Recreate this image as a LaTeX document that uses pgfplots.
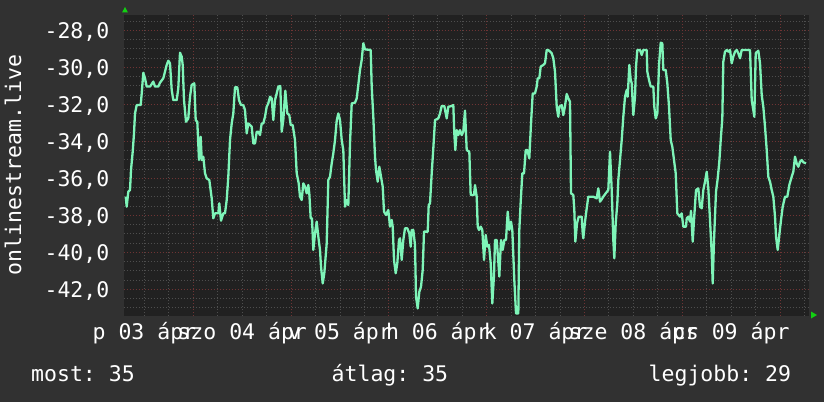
\documentclass[border=0pt]{standalone}
\usepackage{fontspec}
\setmainfont{DejaVu Sans Mono}
\usepackage{pgfplots}
\pgfplotsset{compat=1.18}
\definecolor{bgout}{HTML}{313131}
\definecolor{bgplot}{HTML}{212121}
\definecolor{gridgray}{HTML}{4e4e4e}
\definecolor{gridred}{HTML}{6e3434}
\definecolor{linegreen}{HTML}{7EF4B8}
\definecolor{arrowgreen}{HTML}{12D012}
\newcommand\bigf{\fontsize{21.5bp}{25bp}\selectfont\frenchspacing}
\frenchspacing
\begin{document}
\begin{tikzpicture}[x=1bp,y=1bp]
\fill[bgout] (0,0) rectangle (824,402);
\useasboundingbox (0,0) rectangle (824,402);
\begin{axis}[
  at={(123.5bp,86bp)}, anchor=south west,
  scale only axis, width=685.5bp, height=301bp,
  xmin=123.5, xmax=809, ymin=-43.44, ymax=-27.17,
  axis background/.style={fill=bgplot},
  axis line style={draw=none},
  tick style={draw=none},
  xtick={144.4,242.2,340.0,437.8,535.6,633.4,731.2},
  xticklabels={p 03 ápr, szo 04 ápr, v 05 ápr, h 06 ápr, k 07 ápr, sze 08 ápr, cs 09 ápr},
  ytick={-42,-40,-38,-36,-34,-32,-30,-28},
  yticklabels={{-42,0},{-40,0},{-38,0},{-36,0},{-34,0},{-32,0},{-30,0},{-28,0}},
  xticklabel style={font=\bigf, text=white, anchor=base, inner sep=0pt, yshift=-23.3bp},
  yticklabel style={font=\bigf, text=white, anchor=base east, inner sep=0pt, xshift=-14bp, yshift=-7.8bp},
  clip=true,
]
\pgfplotsinvokeforeach{-43,-42.5,-41.5,-41,-40.5,-39.5,-39,-38.5,-37.5,-37,-36.5,-35.5,-35,-34.5,-33.5,-33,-32.5,-31.5,-31,-30.5,-29.5,-29,-28.5,-27.5}{
  \draw[gridgray, line width=1bp, dash pattern=on 1bp off 2bp] (axis cs:123.5,#1) -- (axis cs:809,#1);}
\pgfplotsinvokeforeach{144.4,168.85,217.75,242.2,266.65,315.55,340.0,364.45,413.35,437.8,462.25,511.15,535.6,560.05,608.95,633.4,657.85,706.75,731.2,755.65,804.55}{
  \draw[gridgray, line width=1bp, dash pattern=on 1bp off 2bp] (axis cs:#1,-43.44) -- (axis cs:#1,-27.17);}
\pgfplotsinvokeforeach{-42,-40,-38,-36,-34,-32,-30,-28}{
  \draw[gridred, line width=1bp, dash pattern=on 1bp off 2bp] (axis cs:123.5,#1) -- (axis cs:809,#1);}
\pgfplotsinvokeforeach{193.3,291.1,388.9,486.7,584.5,682.3,780.1}{
  \draw[gridred, line width=1bp, dash pattern=on 1bp off 2bp] (axis cs:#1,-43.44) -- (axis cs:#1,-27.17);}
\addplot[linegreen, line width=2.3bp, line join=round, mark=none] coordinates {
(125.7,-36.99) (126.7,-37.53) (128.3,-36.72) (130.0,-36.63) (131.0,-35.55) (132.7,-34.56)
(134.0,-33.57) (135.0,-32.49) (136.7,-32.04) (140.7,-32.04) (141.7,-31.41) (143.3,-30.29)
(145.0,-30.59) (146.7,-31.04) (150.0,-31.04) (153.3,-30.77) (155.0,-31.04) (158.3,-31.04)
(160.0,-30.83) (163.3,-30.59) (165.0,-30.23) (166.7,-29.87) (168.3,-29.64) (170.0,-29.78)
(171.7,-31.22) (173.3,-31.77) (176.7,-31.77) (178.3,-31.13) (180.0,-29.21) (181.7,-29.42)
(182.7,-29.87) (184.0,-31.77) (186.0,-32.94) (188.3,-32.76) (190.0,-31.59) (191.7,-30.95)
(194.3,-30.86) (195.0,-31.86) (195.7,-32.85) (197.3,-32.94) (199.0,-35.01) (200.7,-33.75)
(201.7,-35.01) (203.3,-34.83) (205.0,-35.73) (206.7,-36.00) (209.3,-36.09) (211.7,-37.08)
(213.3,-38.16) (215.0,-37.89) (218.3,-37.89) (219.3,-37.35) (221.0,-38.29) (223.3,-37.89)
(225.0,-37.89) (226.7,-37.17) (228.3,-35.91) (230.0,-33.93) (231.7,-33.03) (233.3,-32.49)
(235.0,-31.08) (237.3,-31.08) (239.0,-31.77) (241.0,-32.04) (243.3,-32.04) (245.0,-32.31)
(246.7,-33.57) (248.3,-33.03) (250.0,-33.12) (251.7,-33.21) (253.3,-34.11) (255.0,-34.11)
(256.7,-33.48) (258.3,-33.48) (260.0,-33.66) (261.7,-33.03) (263.3,-33.03) (265.0,-32.67)
(266.7,-32.13) (268.3,-31.95) (270.0,-31.59) (271.7,-31.68) (273.3,-32.85) (275.0,-31.77)
(276.7,-31.41) (278.3,-31.04) (280.3,-31.01) (281.7,-33.48) (283.3,-32.85) (285.3,-31.26)
(287.3,-32.49) (289.3,-32.58) (290.7,-33.12) (292.7,-33.12) (295.0,-33.93) (296.7,-35.73)
(298.7,-36.27) (300.0,-36.99) (301.7,-37.17) (303.3,-36.27) (305.0,-36.45) (306.7,-36.81)
(308.3,-36.36) (309.3,-36.81) (310.7,-38.16) (312.0,-38.16) (313.3,-39.87) (315.0,-38.97)
(316.7,-38.34) (318.3,-39.15) (320.0,-39.87) (321.0,-40.77) (322.7,-41.68) (324.3,-41.13)
(326.7,-39.51) (328.3,-36.09) (330.0,-35.91) (331.7,-35.19) (333.3,-34.65) (335.0,-33.93)
(336.7,-32.88) (338.3,-32.49) (340.0,-32.85) (341.7,-33.93) (343.3,-34.47) (345.0,-37.53)
(346.7,-37.17) (348.3,-37.44) (350.0,-34.11) (351.7,-31.95) (355.0,-31.91) (356.7,-31.68)
(358.3,-30.95) (360.0,-30.14) (361.7,-29.60) (363.3,-28.70) (365.0,-29.03) (370.7,-29.06)
(371.7,-31.04) (373.3,-32.67) (375.0,-34.83) (376.0,-35.55) (377.7,-36.18) (379.3,-35.37)
(381.0,-35.91) (382.7,-36.45) (384.0,-37.80) (386.0,-37.98) (388.3,-37.71) (390.0,-38.61)
(391.7,-38.25) (392.7,-38.61) (394.0,-40.41) (395.7,-41.13) (397.3,-40.59) (399.0,-39.33)
(400.0,-39.24) (401.7,-40.41) (403.3,-39.33) (405.0,-38.70) (407.3,-38.70) (409.3,-38.97)
(410.7,-39.69) (411.7,-38.79) (413.3,-38.79) (415.0,-39.60) (416.0,-42.40) (417.7,-43.03)
(419.3,-42.13) (421.0,-41.86) (422.7,-40.95) (424.0,-38.88) (427.7,-38.88) (428.7,-37.44)
(430.0,-37.35) (431.7,-35.73) (433.3,-34.38) (435.0,-32.85) (438.3,-32.76) (440.0,-32.49)
(441.7,-32.09) (444.3,-32.09) (446.7,-32.76) (448.3,-32.13) (451.7,-32.09) (453.3,-32.04)
(454.3,-33.57) (455.3,-34.47) (456.7,-33.39) (458.3,-33.66) (460.0,-33.39) (461.7,-33.66)
(463.3,-33.48) (465.0,-32.34) (466.7,-34.47) (469.3,-34.56) (470.7,-36.90) (474.0,-36.90)
(475.0,-36.36) (476.7,-36.99) (477.7,-38.61) (479.0,-38.79) (480.7,-38.61) (482.3,-38.79)
(484.0,-40.41) (485.7,-39.06) (487.3,-39.69) (489.0,-39.60) (490.7,-40.59) (492.3,-42.76)
(494.0,-41.22) (495.0,-39.33) (496.7,-39.33) (498.3,-40.50) (499.3,-41.31) (501.0,-39.33)
(502.7,-39.87) (504.3,-39.33) (506.0,-39.33) (507.7,-37.80) (509.3,-38.79) (511.0,-38.34)
(512.3,-38.79) (514.3,-41.49) (516.0,-43.30) (518.3,-43.30) (519.3,-38.79) (520.7,-37.26)
(522.3,-35.73) (524.0,-35.73) (525.7,-34.47) (527.3,-34.47) (529.3,-34.92) (531.0,-33.03)
(532.7,-31.41) (535.0,-31.41) (536.7,-31.04) (537.7,-30.59) (539.3,-30.59) (540.7,-29.96)
(543.3,-29.87) (545.0,-29.78) (546.7,-29.06) (548.3,-29.06) (551.7,-29.24) (553.3,-29.51)
(555.0,-30.23) (556.7,-32.13) (558.3,-32.67) (559.3,-32.13) (561.7,-32.04) (563.3,-32.58)
(565.0,-32.09) (566.7,-31.44) (568.3,-31.68) (570.0,-31.86) (571.0,-36.81) (573.3,-36.90)
(574.3,-37.71) (575.3,-39.42) (577.0,-38.43) (578.7,-38.07) (581.7,-38.07) (582.7,-38.97)
(583.3,-39.24) (585.0,-38.34) (586.7,-37.62) (588.3,-36.99) (593.3,-36.99) (596.7,-37.08)
(598.3,-36.54) (600.0,-37.26) (601.7,-37.13) (603.3,-36.99) (605.7,-36.81) (608.3,-36.63)
(610.0,-34.56) (611.7,-36.63) (613.3,-39.33) (614.3,-40.32) (615.7,-38.43) (617.3,-37.35)
(618.3,-36.09) (620.0,-35.01) (621.7,-33.93) (623.3,-32.67) (625.0,-31.59) (626.7,-31.22)
(627.7,-31.59) (629.3,-29.87) (630.7,-30.68) (631.7,-30.86) (633.3,-32.58) (635.0,-31.59)
(636.0,-29.96) (637.3,-29.06) (640.0,-29.06) (641.7,-29.33) (643.3,-29.06) (646.7,-29.06)
(647.3,-30.23) (649.0,-30.68) (650.7,-31.04) (653.3,-31.04) (654.3,-32.13) (655.7,-32.76)
(657.3,-32.49) (659.0,-29.87) (660.7,-28.67) (662.3,-28.70) (663.3,-30.14) (665.7,-30.14)
(667.3,-30.86) (669.0,-32.13) (670.7,-33.93) (672.3,-34.29) (674.0,-35.01) (675.7,-35.73)
(677.3,-37.89) (680.0,-38.07) (681.7,-37.89) (683.3,-38.61) (686.0,-38.61) (686.7,-38.16)
(688.3,-38.07) (690.0,-38.34) (691.0,-37.75) (692.7,-39.42) (694.0,-38.25) (696.0,-36.63)
(698.3,-36.54) (700.0,-37.53) (701.7,-37.62) (703.3,-36.63) (705.0,-36.18) (706.7,-35.64)
(708.3,-36.54) (710.0,-38.25) (711.7,-40.05) (712.7,-41.68) (714.0,-39.33) (716.0,-36.72)
(717.7,-36.00) (719.3,-35.10) (720.7,-33.93) (722.3,-32.76) (723.3,-29.69) (725.0,-29.15)
(726.7,-29.06) (728.3,-29.15) (730.0,-29.06) (731.7,-29.78) (733.3,-29.42) (735.0,-29.15)
(736.7,-29.06) (738.3,-29.24) (740.0,-29.51) (741.7,-29.06) (750.0,-29.06) (751.7,-31.77)
(753.3,-32.31) (754.3,-32.67) (755.7,-29.24) (758.3,-29.10) (760.0,-29.78) (761.7,-31.50)
(763.3,-32.13) (765.0,-33.21) (766.7,-34.47) (768.3,-35.91) (770.0,-36.18) (771.7,-36.63)
(773.3,-36.99) (775.0,-38.07) (776.0,-39.15) (777.7,-39.87) (779.3,-39.06) (781.0,-38.25)
(782.7,-37.53) (785.0,-36.99) (787.3,-36.99) (789.3,-36.36) (791.7,-35.91) (793.3,-35.64)
(795.0,-34.83) (796.7,-35.19) (798.3,-35.37) (800.0,-35.10) (801.7,-35.01) (803.3,-35.13)
(806.0,-35.19)
};
\end{axis}
\fill[arrowgreen] (122,389.5) -- (128,389.5) -- (125,395) -- cycle;
\fill[arrowgreen] (811,90.5) -- (811,83.5) -- (817,87) -- cycle;
\node[rotate=90, anchor=base, inner sep=0pt, text=white, font=\bigf] at (21,237) {onlinestream.live};
\node[anchor=base west, inner sep=0pt, text=white, font=\bigf] at (31,21) {most: 35};
\node[anchor=base west, inner sep=0pt, text=white, font=\bigf] at (331.5,21) {átlag: 35};
\node[anchor=base west, inner sep=0pt, text=white, font=\bigf] at (648.5,21) {legjobb: 29};
\end{tikzpicture}
\end{document}
